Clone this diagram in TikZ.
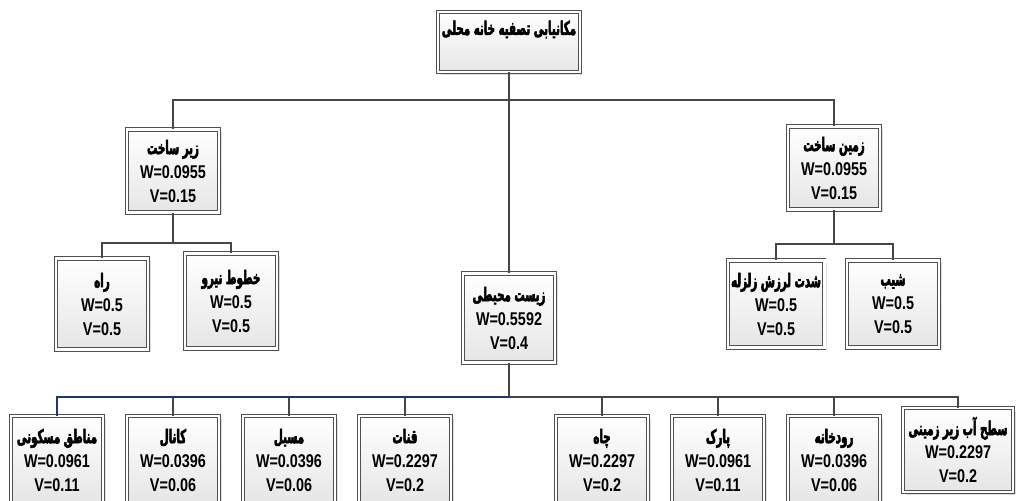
\documentclass[tikz,border=0pt]{standalone}
\usepackage{fontspec}
\setmainfont[FakeStretch=0.78]{Liberation Sans}
\newfontfamily\farsifont[Script=Arabic,FakeStretch=0.54,FakeBold=2.8]{DejaVu Sans}
\TeXXeTstate=1
\usetikzlibrary{shadows}
\newcommand{\per}[1]{{\farsifont\fontsize{10.8}{13.6}\selectfont\beginR #1\endR}}
\definecolor{linegray}{RGB}{70,70,70}
\definecolor{navyline}{RGB}{30,55,110}
\definecolor{boxline}{RGB}{80,80,80}
\tikzset{
  box/.style={draw=boxline, double=white, double distance=1.2pt, line width=0.55pt,
    top color=white, bottom color=black!10,
    drop shadow={shadow xshift=1.5pt, shadow yshift=-1.5pt, fill=black!25},
    minimum width=1.84cm, minimum height=1.7cm, align=center, inner sep=2pt,
    font=\bfseries\fontsize{10.5}{13.6}\selectfont},
  conn/.style={draw=linegray, line width=1pt}
}
\begin{document}
\begin{tikzpicture}[x=0.02cm, y=-0.02cm]
        \useasboundingbox (0,0) rectangle (1016,500);

        \node (root) at (509,42) [box, minimum width=2.76cm, minimum height=1.2cm, text height=10pt, text depth=18pt] {\per{مکانیابی تصفیه خانه محلی}};

        \node (infra) at (173,171) [box, minimum height=1.66cm] {\per{زیر ساخت}\\W=0.0955\\V=0.15};
        \node (geo) at (834,168) [box, minimum height=1.66cm] {\per{زمین ساخت}\\W=0.0955\\V=0.15};
        \node (env) at (509,318) [box, minimum height=1.78cm] {\per{زیست محیطی}\\W=0.5592\\V=0.4};

        \node (road) at (102,304) [box, minimum height=1.82cm] {\per{راه}\\W=0.5\\V=0.5};
        \node (power) at (231,301) [box, minimum height=1.9cm] {\per{خطوط نیرو}\\W=0.5\\V=0.5};
        \node (quake) at (776,304) [box, minimum height=1.74cm] {\per{شدت لرزش زلزله}\\W=0.5\\V=0.5};
        \node (slope) at (893,304) [box, minimum height=1.74cm] {\per{شیب}\\W=0.5\\V=0.5};

        \foreach \n/\x/\t/\w/\v in {resid/57/مناطق مسکونی/0.0961/0.11, canal/173/کانال/0.0396/0.06,
                flood/289/مسیل/0.0396/0.06, qanat/405/قنات/0.2297/0.2, well/602/چاه/0.2297/0.2,
                park/718/پارک/0.0961/0.11, river/834/رودخانه/0.0396/0.06}
                \node (\n) at (\x,460) [box, minimum height=1.76cm] {\per{\t}\\W=\w\\V=\v};
        \node (water) at (958,450) [box, minimum width=2.2cm, minimum height=1.68cm] {\per{سطح آب زیر زمینی}\\W=0.2297\\V=0.2};

        \coordinate (hub) at (509,100);
        \coordinate (lhub) at (173,243);
        \coordinate (rhub) at (834,244);
        \coordinate (bhub) at (509,397);

        \draw[conn] (root.south) -- (hub);
        \draw[conn] (infra.north) |- (hub) -| (geo.north);
        \draw[conn] (hub) -- (env.north);

        \draw[conn] (infra.south) -- (lhub);
        \draw[conn] (road.north) |- (lhub) -| (power.north);
        \draw[conn] (geo.south) -- (rhub);
        \draw[conn] (quake.north) |- (rhub) -| (slope.north);

        \draw[conn] (env.south) -- (bhub);
        \foreach \n in {canal,flood,qanat,well,park,river}
                \draw[conn] (\n.north) -- (\n.north |- bhub);
        \draw[conn] (bhub) -| (water.north);
        \draw[conn, draw=navyline] (resid.north) |- (bhub);
        \end{tikzpicture}
\end{document}
